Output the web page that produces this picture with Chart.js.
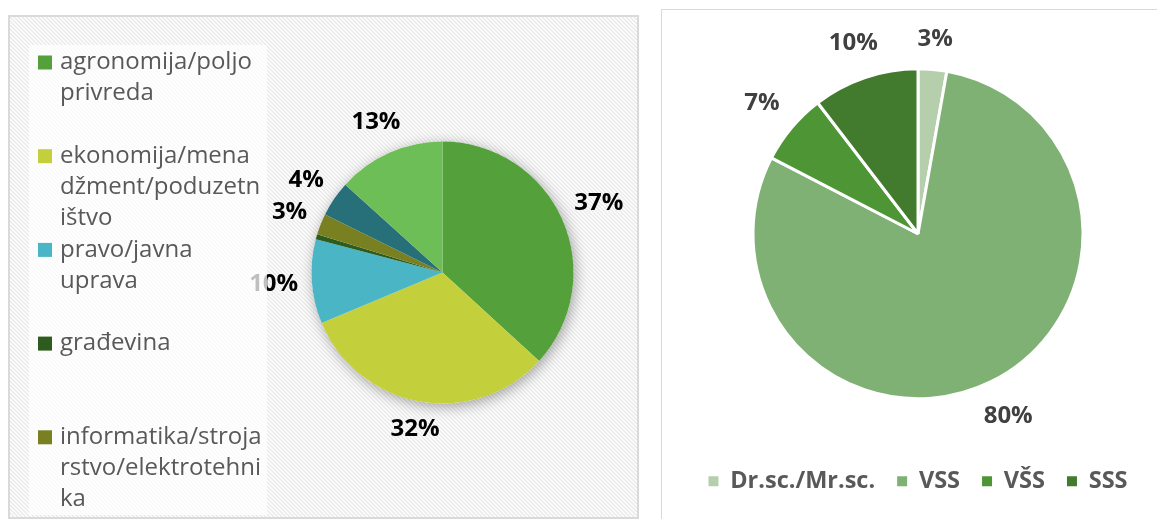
<!DOCTYPE html>
<html>
<head>
<meta charset="utf-8">
<script src="https://cdn.jsdelivr.net/npm/chart.js@4"></script>
<style>
    html, body { margin: 0; padding: 0; background: #fff; overflow: hidden; width: 1157px; height: 519px; }
    #boxLeft { position: absolute; left: 8px; top: 15px; width: 627px; height: 500px; border: 2px solid #DADADA; }
    #boxRight { position: absolute; left: 661px; top: 9px; width: 520px; height: 530px; border: 1px solid #D9D9D9; }
    canvas { display: block; }
</style>
</head>
<body>
<div id="boxLeft"><canvas id="oblastChart" width="627" height="500"></canvas></div>
<div id="boxRight"><canvas id="spremaChart" width="516" height="493"></canvas></div>
<script>
// left chart: field of study (legend text wraps like in the original)
const oblastLabels = [
    ['agronomija/poljo', 'privreda'],
    ['ekonomija/mena', 'džment/poduzetn', 'ištvo'],
    ['pravo/javna', 'uprava'],
    ['građevina'],
    ['informatika/stroja', 'rstvo/elektrotehni', 'ka'],
    ['nije navedeno'],   // legend entry cut off in the reference
    ['ostalo']           // legend entry cut off in the reference
];
const oblastValues = [36.8, 31.9, 10.4, 0.6, 2.6, 4.4, 13.3];
const oblastColors = ['#54A03B', '#C3D03B', '#4AB5C5', '#2E5C1F', '#788021', '#276F79', '#6DBE56'];

// right chart: level of education
const spremaLabels = ['Dr.sc./Mr.sc.', 'VSS', 'VŠS', 'SSS'];
const spremaValues = [2.8, 79.8, 7.0, 10.4];
const spremaColors = ['#B5CFAD', '#80B174', '#4D9535', '#427B2E'];

// percent labels outside the slices
const sliceLabels = {
    id: 'sliceLabels',
    afterDatasetsDraw(chart, args, opts) {
        const ctx = chart.ctx;
        const values = chart.data.datasets[0].data;
        ctx.save();
        ctx.font = opts.font;
        ctx.fillStyle = opts.color;
        ctx.textAlign = 'center';
        ctx.textBaseline = 'middle';
        chart.getDatasetMeta(0).data.forEach((arc, i) => {
            if (values[i] < 1) return;
            const text = Math.round(values[i]) + '%';
            const mid = (arc.startAngle + arc.endAngle) / 2;
            const cos = Math.cos(mid), sin = Math.sin(mid);
            const hw = ctx.measureText(text).width / 2;
            const dist = arc.outerRadius + opts.gap + hw * Math.abs(cos) + 11 * Math.abs(sin);
            ctx.fillText(text, arc.x + cos * dist, arc.y + sin * dist);
        });
        ctx.restore();
    }
};

const hatchBackground = {
    id: 'hatchBackground',
    beforeDraw(chart) {
        const s = 4;
        const tile = document.createElement('canvas');
        tile.width = s; tile.height = s;
        const t = tile.getContext('2d');
        t.fillStyle = '#ffffff';
        t.fillRect(0, 0, s, s);
        t.strokeStyle = '#E8E8E8';
        t.lineWidth = 1.3;
        t.beginPath();
        t.moveTo(0, 0); t.lineTo(s, s);
        t.moveTo(-1, s - 1); t.lineTo(1, s + 1);
        t.moveTo(s - 1, -1); t.lineTo(s + 1, 1);
        t.stroke();
        const ctx = chart.ctx;
        ctx.save();
        ctx.fillStyle = ctx.createPattern(tile, 'repeat');
        ctx.fillRect(0, 0, chart.width, chart.height);
        ctx.restore();
    }
};

const pieShadow = {
    id: 'pieShadow',
    beforeDatasetsDraw(chart) {
        const arc = chart.getDatasetMeta(0).data[0];
        const ctx = chart.ctx;
        ctx.save();
        ctx.shadowColor = 'rgba(0,0,0,0.35)';
        ctx.shadowBlur = 14;
        ctx.shadowOffsetX = 2;
        ctx.shadowOffsetY = 3;
        ctx.fillStyle = '#ffffff';
        ctx.beginPath();
        ctx.arc(arc.x, arc.y, arc.outerRadius, 0, Math.PI * 2);
        ctx.fill();
        ctx.restore();
    }
};

// Excel-like legend on the left with fixed slots
const sideLegend = {
    id: 'sideLegend',
    afterDraw(chart, args, opts) {
        const ctx = chart.ctx;
        const colors = chart.data.datasets[0].backgroundColor;
        ctx.save();
        ctx.fillStyle = 'rgba(255,255,255,0.75)';
        ctx.fillRect(opts.x, opts.y, opts.width, opts.height);
        ctx.font = opts.font;
        ctx.textBaseline = 'middle';
        chart.data.labels.forEach((lines, i) => {
            const top = opts.firstY + i * opts.slot;
            ctx.fillStyle = colors[i];
            ctx.fillRect(opts.x + 9, top - 7, 14, 14);
            ctx.fillStyle = opts.color;
            lines.forEach((line, j) => ctx.fillText(line, opts.x + 31, top + j * opts.lineHeight));
        });
        ctx.restore();
    }
};

document.addEventListener("DOMContentLoaded", () => {
    new Chart(document.getElementById('oblastChart'), {
        type: 'pie',
        data: {
            labels: oblastLabels,
            datasets: [{
                data: oblastValues,
                backgroundColor: oblastColors,
                borderWidth: 0,
                radius: 131,
                clip: false
            }]
        },
        options: {
            responsive: false,
            animation: false,
            layout: { padding: { left: 238, right: 0, top: 11, bottom: 0 } },
            plugins: {
                legend: { display: false },
                tooltip: { enabled: false },
                sliceLabels: { font: 'bold 24px "Open Sans"', color: '#000000', gap: 13 },
                sideLegend: {
                    x: 19, y: 28, width: 238, height: 470, firstY: 45.5, slot: 93.7, lineHeight: 31,
                    font: '24px "Open Sans"', color: '#595959'
                }
            }
        },
        plugins: [hatchBackground, pieShadow, sliceLabels, sideLegend]
    });

    new Chart(document.getElementById('spremaChart'), {
        type: 'pie',
        data: {
            labels: spremaLabels,
            datasets: [{
                data: spremaValues,
                backgroundColor: spremaColors,
                borderColor: '#ffffff',
                borderWidth: 3,
                radius: 165,
                clip: false
            }]
        },
        options: {
            responsive: false,
            animation: false,
            layout: { padding: { top: 10, bottom: 0, left: 0, right: 4 } },
            plugins: {
                tooltip: { enabled: false },
                legend: {
                    position: 'bottom',
                    labels: {
                        boxWidth: 10,
                        boxHeight: 10,
                        padding: 22,
                        color: '#595959',
                        font: { family: 'Open Sans', size: 23.5, weight: 'bold' },
                        generateLabels(chart) {
                            return Chart.overrides.doughnut.plugins.legend.labels.generateLabels(chart)
                                .map(item => ({ ...item, lineWidth: 0 }));
                        }
                    }
                },
                sliceLabels: { font: 'bold 24px "Open Sans"', color: '#404040', gap: 18 }
            }
        },
        plugins: [sliceLabels]
    });
});
</script>
</body>
</html>
